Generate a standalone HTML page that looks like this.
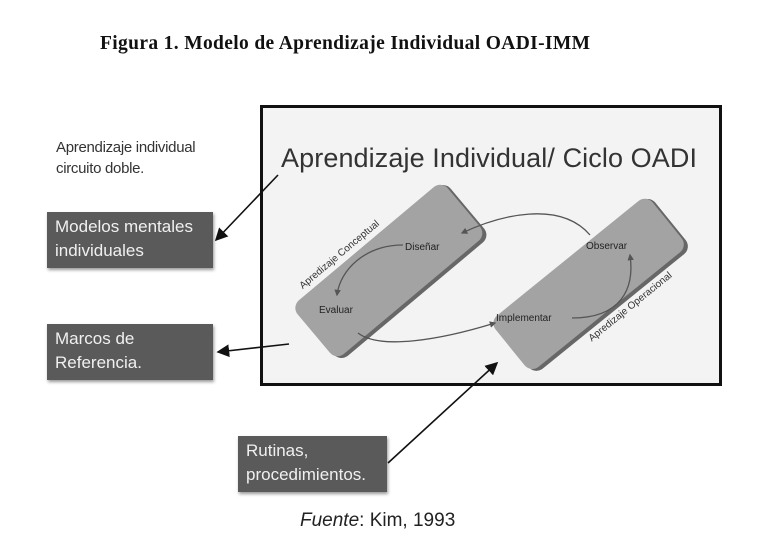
<!DOCTYPE html>
<html><head><meta charset="utf-8"><style>
body{margin:0;width:767px;height:550px;background:#fff;position:relative;overflow:hidden;font-family:"Liberation Sans",sans-serif}
.t{position:absolute;white-space:nowrap}
.box{position:absolute;background:#5a5a5a;color:#f0f0f0;font-size:17px;line-height:24px;padding:3px 8px;box-sizing:border-box;box-shadow:1px 2px 3px #999}
</style></head><body>
<div class="t" style="left:100px;top:33px;font-family:'Liberation Serif',serif;font-weight:bold;font-size:19.5px;letter-spacing:0.35px;color:#111">Figura 1. Modelo de Aprendizaje Individual OADI-IMM</div>
<div class="t" style="left:56px;top:137px;font-size:15px;line-height:21px;color:#333;letter-spacing:-0.3px">Aprendizaje individual<br>circuito doble.</div>
<div class="box" style="left:47px;top:212px;width:166px;height:56px">Modelos mentales<br>individuales</div>
<div class="box" style="left:47px;top:324px;width:166px;height:56px">Marcos de<br>Referencia.</div>
<div class="box" style="left:238px;top:436px;width:149px;height:56px">Rutinas,<br>procedimientos.</div>
<div class="t" style="left:300px;top:510px;font-size:19px;color:#222"><i>Fuente</i>: Kim, 1993</div>
<svg width="767" height="550" style="position:absolute;left:0;top:0">
<defs><marker id="a" markerWidth="8" markerHeight="8" refX="7" refY="4" orient="auto"><path d="M0,0L8,4L0,8z" fill="#111"/></marker>
<marker id="b" markerWidth="5" markerHeight="5" refX="4" refY="2.5" orient="auto"><path d="M0,0L5,2.5L0,5z" fill="#555"/></marker></defs>
<rect x="261.5" y="106.5" width="459" height="278" fill="#f3f3f3" stroke="#111" stroke-width="3"/>
<text x="281" y="167" font-size="27" fill="#333" textLength="416">Aprendizaje Individual/ Ciclo OADI</text>
<g transform="translate(391,270) rotate(-40)">
<rect x="-98" y="-34" width="196" height="72" rx="10" fill="#444" opacity="0.8"/>
<rect x="-100" y="-36" width="196" height="70" rx="10" fill="#a3a3a3"/>
<text x="-80" y="-42" font-size="10" fill="#333">Apredizaje Conceptual</text>
</g>
<g transform="translate(590,284) rotate(-39)">
<rect x="-100" y="-32" width="202" height="68" rx="10" fill="#444" opacity="0.8"/>
<rect x="-102" y="-34" width="202" height="66" rx="10" fill="#a3a3a3"/>
<text x="-35" y="46" font-size="10" fill="#333">Apredizaje Operacional</text>
</g>
<g font-size="10" fill="#222">
<text x="405" y="250">Diseñar</text><text x="319" y="313">Evaluar</text>
<text x="586" y="249">Observar</text><text x="496" y="321">Implementar</text>
</g>
<g fill="none" stroke="#555" stroke-width="1.3">
<path d="M403,245 C365,245 340,270 337,295" marker-end="url(#b)"/>
<path d="M590,235 C560,200 500,215 462,233" marker-end="url(#b)"/>
<path d="M358,333 C380,350 440,340 495,323" marker-end="url(#b)"/>
<path d="M572,318 C620,318 635,290 630,255" marker-end="url(#b)"/>
</g>
<g stroke="#111" stroke-width="1.6" fill="none">
<line x1="278" y1="175" x2="216" y2="240" marker-end="url(#a)"/>
<line x1="289" y1="344" x2="218" y2="352" marker-end="url(#a)"/>
<line x1="388" y1="463" x2="497" y2="363" marker-end="url(#a)"/>
</g>
</svg>
</body></html>
